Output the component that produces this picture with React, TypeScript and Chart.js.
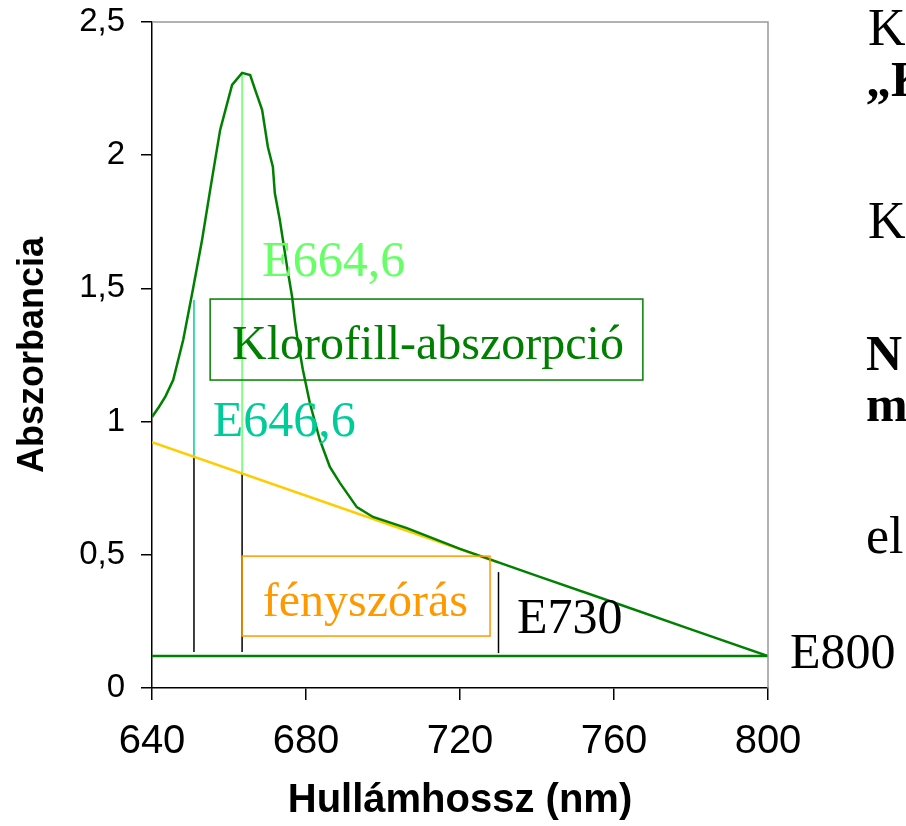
import React, { useEffect, useRef } from "react";
import { Chart, registerables } from "chart.js";

Chart.register(...registerables);

// Measured absorbance spectrum (nm, A)
const wavelengths = [640, 641.8, 643.5, 645.5, 648.1, 650.6, 653, 655.1, 657.7, 660.8, 663.4, 665.5, 666.8, 668.6, 670.1, 671.4, 671.9, 673.2, 675.1, 676.4, 677.1, 677.7, 679.2, 681, 683.6, 686.2, 688.8, 693.2, 697.4, 706.2, 720, 740, 760, 780, 800];
const absorbance = [1.017, 1.055, 1.095, 1.156, 1.306, 1.494, 1.682, 1.869, 2.095, 2.264, 2.309, 2.301, 2.245, 2.17, 2.031, 1.956, 1.858, 1.757, 1.58, 1.468, 1.38, 1.318, 1.194, 1.07, 0.931, 0.83, 0.77, 0.679, 0.642, 0.6, 0.522, 0.421, 0.321, 0.22, 0.12];

// Light-scattering baseline (yellow)
const scatterWl = [640, 730];
const scatterAbs = [0.923, 0.471];

// E800 level (horizontal)
const e800Wl = [640, 800];
const e800Abs = [0.12, 0.12];

// Vertical markers
const cyanLine = { x: 650.9, from: 0.868, to: 1.456 };
const cyanBlack = { x: 650.9, from: 0.135, to: 0.868 };
const greenLine = { x: 663.4, from: 0.806, to: 2.31 };
const greenBlack = { x: 663.4, from: 0.135, to: 0.806 };
const e730Black = { x: 730, from: 0.131, to: 0.435 };

const xTicks = [640, 680, 720, 760, 800];
const yTicks = [0, 0.5, 1, 1.5, 2, 2.5];

const vline = (v: { x: number; from: number; to: number }) => [
  { x: v.x, y: v.from },
  { x: v.x, y: v.to },
];
const pairs = (xs: number[], ys: number[]) => xs.map((x, i) => ({ x, y: ys[i] }));

const SERIF = "'Liberation Serif', 'Times New Roman', serif";
const SANS = "'Liberation Sans', Arial, sans-serif";

const annotationPlugin = {
  id: "annotations",
  afterDraw(chart: any) {
    const { ctx, chartArea, scales } = chart;
    const xs = scales.x;
    const ys = scales.y;
    const px = (v: number) => xs.getPixelForValue(v);
    const py = (v: number) => ys.getPixelForValue(v);
    ctx.save();
    // top and right frame
    ctx.strokeStyle = "#999999";
    ctx.lineWidth = 1.5;
    ctx.beginPath();
    ctx.moveTo(chartArea.left, chartArea.top);
    ctx.lineTo(chartArea.right, chartArea.top);
    ctx.lineTo(chartArea.right, chartArea.bottom);
    ctx.stroke();

    ctx.textBaseline = "alphabetic";
    // Klorofill box
    ctx.strokeStyle = "#008000";
    ctx.lineWidth = 1.5;
    ctx.strokeRect(px(655.1), py(1.46), px(767.5) - px(655.1), py(1.156) - py(1.46));
    ctx.fillStyle = "#008000";
    ctx.font = `48px ${SERIF}`;
    ctx.textAlign = "left";
    ctx.fillText("Klorofill-abszorpció", px(660.8), py(1.235));

    // fényszórás box
    ctx.strokeStyle = "#ff9900";
    ctx.strokeRect(px(663.4), py(0.495), px(727.8) - px(663.4), py(0.195) - py(0.495));
    ctx.fillStyle = "#ff9900";
    ctx.textAlign = "center";
    ctx.fillText("fényszórás", px(695.4), py(0.27));

    ctx.textAlign = "left";
    ctx.font = `50px ${SERIF}`;
    ctx.fillStyle = "#66ff66";
    ctx.fillText("E664,6", px(668.6), py(1.547));
    ctx.fillStyle = "#00cc99";
    ctx.fillText("E646,6", px(655.8), py(0.946));
    ctx.fillStyle = "#000000";
    ctx.fillText("E730", px(734.8), py(0.206));
    ctx.fillText("E800", px(805.7), py(0.075));

    // slide text at the right edge
    ctx.font = `52px ${SERIF}`;
    ctx.fillText("K", 868, 45);
    ctx.font = `bold 50px ${SERIF}`;
    ctx.fillText("„K", 866, 96);
    ctx.font = `52px ${SERIF}`;
    ctx.fillText("K", 868, 238);
    ctx.font = `bold 50px ${SERIF}`;
    ctx.fillText("N", 866, 370);
    ctx.fillText("m", 866, 421);
    ctx.font = `52px ${SERIF}`;
    ctx.fillText("el", 866, 553);
    ctx.restore();
  },
};

export default function App() {
  const ref = useRef<HTMLCanvasElement | null>(null);
  useEffect(() => {
    if (!ref.current) return;
    const lineDs = (label: string, data: any[], color: string, width: number, order: number) => ({
      label,
      data,
      borderColor: color,
      backgroundColor: color,
      borderWidth: width,
      showLine: true,
      pointRadius: 0,
      tension: 0,
      order,
    });
    const chart = new Chart(ref.current, {
      type: "scatter",
      data: {
        datasets: [
          lineDs("Spektrum", pairs(wavelengths, absorbance), "#008000", 2.5, 1),
          lineDs("Fényszórás", pairs(scatterWl, scatterAbs), "#ffcc00", 2.5, 3),
          lineDs("E800", pairs(e800Wl, e800Abs), "#008000", 2.5, 2),
          lineDs("E646,6", vline(cyanLine), "#00cc99", 1.5, 4),
          lineDs("E646,6 b", vline(cyanBlack), "#000000", 1.5, 4),
          lineDs("E664,6", vline(greenLine), "#66ff66", 1.5, 4),
          lineDs("E664,6 b", vline(greenBlack), "#000000", 1.5, 4),
          lineDs("E730", vline(e730Black), "#000000", 1.5, 4),
        ],
      },
      options: {
        animation: false,
        responsive: false,
        maintainAspectRatio: false,
        layout: { padding: { left: 0, top: 22, right: 138, bottom: 0 } },
        plugins: { legend: { display: false }, tooltip: { enabled: false } },
        scales: {
          x: {
            type: "linear",
            min: 640,
            max: 800,
            afterBuildTicks: (s: any) => {
              s.ticks = xTicks.map((v) => ({ value: v }));
            },
            afterFit: (s: any) => {
              s.height = 138;
              s.paddingLeft = 0;
              s.paddingRight = 0;
            },
            border: { color: "#000000", width: 1.5 },
            grid: { drawOnChartArea: false, tickLength: 12, color: "#000000", lineWidth: 1.5 },
            ticks: {
              color: "#000000",
              font: { family: SANS, size: 40 },
              padding: 18,
              maxRotation: 0,
              callback: (v: any) => String(v),
            },
            title: {
              display: true,
              text: "Hullámhossz (nm)",
              color: "#000000",
              font: { family: SANS, size: 40, weight: "bold" },
              padding: { top: 0, bottom: 1 },
            },
          },
          y: {
            type: "linear",
            min: 0,
            max: 2.5,
            afterBuildTicks: (s: any) => {
              s.ticks = yTicks.map((v) => ({ value: v }));
            },
            afterFit: (s: any) => {
              s.width = 152;
              s.paddingTop = 0;
              s.paddingBottom = 0;
            },
            border: { color: "#000000", width: 1.5 },
            grid: { drawOnChartArea: false, tickLength: 11, color: "#000000", lineWidth: 1.5 },
            ticks: {
              color: "#000000",
              font: { family: SANS, size: 33 },
              padding: 16,
              callback: (v: any) => String(v).replace(".", ","),
            },
            title: {
              display: true,
              text: "Abszorbancia",
              color: "#000000",
              font: { family: SANS, size: 36, weight: "bold" },
              padding: { top: 11, bottom: 0 },
            },
          },
        },
      },
      plugins: [annotationPlugin],
    } as any);
    return () => chart.destroy();
  }, []);
  return (
    <div style={{ position: "absolute", left: 0, top: 0, width: 906, height: 826, overflow: "hidden", background: "#ffffff" }}>
      <canvas ref={ref} width={906} height={826} style={{ width: 906, height: 826, display: "block" }} />
    </div>
  );
}
